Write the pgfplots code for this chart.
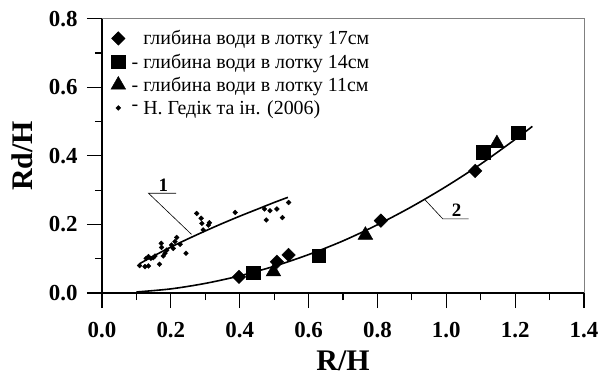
\documentclass[border=0pt]{standalone}
\usepackage{fontspec}
\setmainfont{Liberation Serif}
\usepackage{pgfplots}
\pgfplotsset{compat=1.18}
\begin{document}
\begin{tikzpicture}
\useasboundingbox (-102bp,-85bp) rectangle (500bp,293bp);
\begin{axis}[
  scale only axis,
  width=482bp, height=274.3bp,
  xmin=0, xmax=1.4, ymin=0, ymax=0.8,
  axis lines*=left,
  axis line style={-, line width=1.3bp},
  xtick={0,0.2,...,1.4}, ytick={0,0.2,...,0.8},
  minor xtick={0.1,0.3,...,1.3}, minor ytick={0.1,0.3,0.5,0.7},
  tick align=outside,
  major tick length=15bp, minor tick length=7bp,
  every tick/.style={black, line width=1.1bp},
  xticklabel style={yshift=-11bp, /pgf/number format/.cd, fixed, fixed zerofill, precision=1, assume math mode=true},
  yticklabel style={xshift=-6bp, /pgf/number format/.cd, fixed, fixed zerofill, precision=1, assume math mode=true},
  tick label style={font=\fontsize{23}{23}\selectfont\bfseries, black},
  xlabel={\textbf{R/H}}, ylabel={\textbf{Rd/H}},
  xlabel style={yshift=-6bp},
  ylabel style={yshift=9bp},
  label style={font=\fontsize{30}{30}\selectfont},
  legend style={draw=none, fill=none, at={(0.012,0.972)}, anchor=north west,
    font=\fontsize{20}{20}\selectfont, row sep=3.5bp,
    /tikz/every odd column/.append style={column sep=4bp}},
  legend cell align=left,
  clip=false,
]
\addplot[only marks, mark=square*, mark options={rotate=45}, mark size=4.8bp, black]
  coordinates {(0.398,0.047) (0.508,0.091) (0.542,0.111) (0.810,0.211) (1.084,0.356)};
\addlegendentry{\phantom{- }глибина води в лотку 17см}
\addplot[only marks, mark=square*, mark size=6.8bp, black]
  coordinates {(0.440,0.059) (0.629,0.109) (1.108,0.410) (1.208,0.468)};
\addlegendentry{- глибина води в лотку 14см}
\addplot[only marks, mark=triangle*, mark size=8.5bp, black]
  coordinates {(0.498,0.062) (0.765,0.169) (1.147,0.436)};
\addlegendentry{- глибина води в лотку 11см}
\addplot[only marks, mark=square*, mark options={rotate=45}, mark size=1.7bp, black]
  coordinates {(0.109,0.080) (0.125,0.077) (0.135,0.079) (0.128,0.101) (0.135,0.106)
  (0.142,0.101) (0.149,0.103) (0.154,0.108) (0.167,0.084) (0.172,0.145) (0.173,0.133)
  (0.178,0.108) (0.183,0.116) (0.188,0.125) (0.202,0.140) (0.207,0.130) (0.217,0.162)
  (0.212,0.150) (0.227,0.142) (0.244,0.116) (0.275,0.232) (0.288,0.218) (0.290,0.203)
  (0.294,0.184) (0.309,0.198) (0.312,0.205) (0.387,0.235) (0.472,0.245) (0.488,0.240)
  (0.508,0.245) (0.477,0.213) (0.524,0.220) (0.542,0.264)};
\addlegendentry{\raisebox{0.45ex}{-} Н. Гедік та ін. (2006)}
% curve 1
\addplot[black, line width=1.6bp, smooth, forget plot]
  coordinates {(0.11,0.086) (0.15,0.108) (0.20,0.134) (0.25,0.158) (0.30,0.181)
  (0.35,0.203) (0.40,0.224) (0.45,0.244) (0.50,0.264) (0.54,0.279)};
% curve 2
\addplot[black, line width=1.6bp, smooth, forget plot]
  coordinates {(0.10,0.003) (0.20,0.012) (0.30,0.028) (0.40,0.050) (0.50,0.078)
  (0.60,0.112) (0.70,0.152) (0.80,0.199) (0.90,0.252) (1.00,0.311) (1.10,0.376)
  (1.20,0.448) (1.25,0.486)};
% leader lines
\addplot[black, line width=0.6bp, forget plot] coordinates {(0.215,0.291) (0.135,0.291) (0.260,0.171)};
\addplot[black, line width=0.6bp, forget plot] coordinates {(1.065,0.216) (0.990,0.216) (0.939,0.271)};
\node[font=\fontsize{19}{19}\selectfont\bfseries, anchor=base] at (axis cs:0.178,0.296) {1};
\node[font=\fontsize{19}{19}\selectfont\bfseries, anchor=base] at (axis cs:1.030,0.222) {2};
\draw[gray, line width=0.9bp] (rel axis cs:0,1) -- (rel axis cs:1,1) -- (rel axis cs:1,0);
\end{axis}
\end{tikzpicture}
\end{document}
